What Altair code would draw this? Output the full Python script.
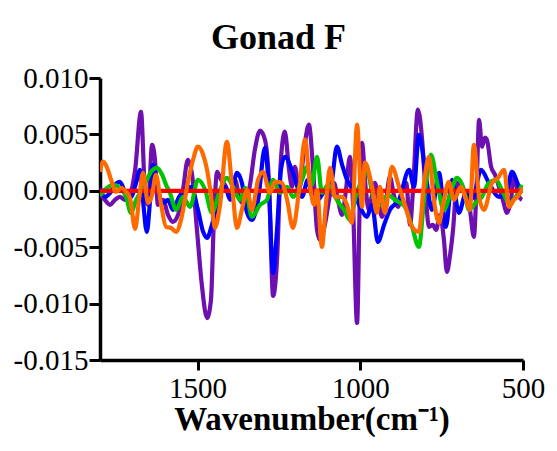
import altair as alt
import pandas as pd

# Wavenumbers (cm-1) and second-derivative values
purple_x = [1800, 1785, 1769, 1754, 1739, 1723, 1708, 1692, 1674, 1662, 1652, 1640, 1631, 1622, 1606, 1591,
            1576, 1560, 1545, 1530, 1517, 1502, 1487, 1471, 1459, 1450, 1440, 1428, 1416, 1400, 1385, 1370,
            1354, 1339, 1324, 1308, 1293, 1281, 1268, 1256, 1244, 1232, 1219, 1210, 1201, 1188, 1173, 1158,
            1146, 1133, 1124, 1109, 1093, 1081, 1069, 1056, 1044, 1032, 1023, 1010, 1001, 995, 983, 974,
            964, 955, 943, 933, 921, 909, 897, 884, 872, 859, 847, 838, 823, 810, 798, 789, 777, 767, 755,
            743, 734, 724, 715, 703, 687, 675, 663, 651, 642, 635, 626, 617, 611, 598, 586, 574, 562, 549,
            537, 528, 512, 503]
purple_y = [-0.00018, -0.0008, -0.00124, -0.0008, -0.00053, -0.0008, -0.00036, 0.00186, 0.0070, 0.00009,
            -0.00124, 0.00408, 0.00275, -0.00124, -0.0008, -0.00213, -0.00275, -0.00213, 0.00009, 0.00275,
            0.00142, -0.00346, -0.00835, -0.01128, -0.00968, -0.00258, 0.00169, 0.00098, 0.00053, -0.00036,
            0.00098, -0.0008, -0.00124, 0.00053, 0.00364, 0.00533, 0.00453, 0.00098, -0.00932, -0.00613,
            0.00275, 0.00524, 0.00186, 0.00036, 0.00213, 0.00009, 0.00364, 0.00586, 0.00231, -0.00346,
            -0.00435, -0.00302, -0.00036, 0.00071, -0.0008, -0.00213, 0.00009, 0.00302, -0.0008, -0.01172,
            0.00009, 0.00426, 0.00009, -0.00169, -0.00036, 0.00071, -0.00124, -0.00231, -0.0008, 0.00124,
            -0.00036, -0.00142, 0.00009, 0.00071, -0.00302, 0.00009, 0.0072, 0.00453, -0.0008, -0.0032,
            -0.00302, -0.00346, -0.00213, -0.00435, -0.00719, -0.00568, -0.00346, 0.00071, 0.00009, -0.00018,
            -0.00169, -0.00408, 0.00098, 0.0063, 0.00391, 0.00471, 0.00453, 0.00213, 0.00142, 0.00036,
            -0.0008, -0.00195, -0.0008, 0.00124, -0.00053, -0.0008]

blue_x = [1800, 1785, 1769, 1754, 1739, 1723, 1705, 1689, 1677, 1668, 1656, 1646, 1637, 1625, 1606, 1591,
          1576, 1557, 1539, 1520, 1499, 1483, 1471, 1456, 1437, 1416, 1400, 1379, 1364, 1348, 1333, 1314,
          1293, 1281, 1268, 1256, 1244, 1232, 1207, 1179, 1161, 1149, 1130, 1109, 1090, 1072, 1056, 1041,
          1023, 1001, 980, 964, 946, 927, 909, 881, 850, 835, 820, 798, 780, 758, 737, 718, 697, 675, 654,
          629, 605, 574, 552, 534, 512, 500]
blue_y = [0.00027, -0.00053, -0.00018, 0.00053, 0.0008, -0.00009, -0.00053, 0.00071, 0.00186, -0.0008,
          -0.00364, -0.0008, 0.00231, 0.00053, -0.00107, -0.0008, -0.00169, -0.00053, 0.00009, 0.00036,
          -0.00169, -0.00364, -0.00417, -0.00302, -0.0008, 0.00036, -0.0008, 0.0016, 0.00071, -0.00195,
          -0.00258, -0.0008, 0.00382, 0.00009, -0.00728, -0.00346, 0.00186, 0.00302, 0.0016, -0.00053,
          0.00098, -0.00036, -0.0008, 0.00009, 0.00053, 0.00391, 0.00231, 0.00098, 0.00009, -0.00142,
          -0.00231, -0.00124, -0.00453, -0.00302, -0.00169, -0.0008, 0.00186, 0.00036, 0.00497, 0.00124,
          -0.00169, 0.0016, -0.0032, 0.00098, -0.00195, -0.00018, -0.00062, 0.00186, 0.00071, -0.00053,
          -0.00036, 0.00169, 0.00036, -0.00009]

green_x = [1800, 1785, 1760, 1739, 1720, 1705, 1689, 1671, 1656, 1643, 1625, 1609, 1597, 1585, 1566, 1545,
           1523, 1499, 1477, 1456, 1431, 1410, 1391, 1370, 1354, 1333, 1308, 1287, 1268, 1247, 1225, 1207,
           1179, 1164, 1149, 1133, 1118, 1099, 1081, 1062, 1050, 1032, 1013, 995, 980, 958, 937, 915, 894,
           863, 841, 820, 804, 783, 764, 743, 724, 703, 681, 666, 645, 626, 605, 583, 565, 543, 522, 503]
green_y = [-0.00044, 0.00009, 0.00053, 0.00027, -0.00053, -0.00195, -0.0008, 0.00009, 0.00098, 0.00169,
           0.00204, 0.00142, 0.00053, -0.00018, -0.00169, -0.00053, -0.00142, 0.00098, 0.00009, -0.00195,
           0.00009, 0.00115, 0.00036, -0.0008, 0.00027, -0.00231, -0.00124, -0.0008, 0.00098, -0.00018,
           0.00036, -0.00053, 0.00098, 0.00213, 0.00053, 0.00302, -0.00018, 0.00053, -0.00036, -0.00124,
           -0.00169, -0.00258, -0.00036, 0.00098, 0.00186, -0.0008, -0.00124, -0.00036, -0.0008, -0.00142,
           -0.0032, -0.00497, -0.0008, 0.0032, 0.00071, -0.00169, -0.00036, 0.00115, 0.00009, -0.00169,
           -0.00107, -0.00053, 0.00071, 0.00098, 0.00009, -0.00107, -0.00053, 0.00053]

orange_x = [1800, 1791, 1778, 1766, 1751, 1735, 1720, 1708, 1692, 1680, 1668, 1652, 1640, 1628, 1613, 1597,
            1582, 1566, 1551, 1530, 1514, 1499, 1483, 1471, 1459, 1447, 1431, 1410, 1394, 1379, 1364, 1348,
            1333, 1314, 1299, 1278, 1262, 1241, 1225, 1207, 1188, 1170, 1155, 1142, 1133, 1118, 1106, 1093,
            1078, 1056, 1041, 1026, 1010, 995, 986, 964, 949, 940, 924, 903, 881, 863, 841, 820, 804, 789,
            774, 758, 746, 728, 712, 691, 675, 663, 651, 635, 620, 595, 577, 558, 543, 528, 512, 500]
orange_y = [0.00169, 0.00258, 0.00204, 0.00098, -0.00009, 0.00027, -0.00009, -0.00062, -0.00337, -0.0008,
            0.0016, -0.00107, -0.00036, 0.00142, -0.00107, -0.0032, -0.00329, -0.00364, -0.00258, 0.00071,
            0.00275, 0.00391, 0.0032, 0.00186, -0.00036, -0.00329, -0.00124, 0.00435, 0.00036, -0.00329,
            -0.00169, 0.00009, -0.00169, 0.00098, 0.00169, -0.00018, 0.0008, 0.00071, -0.0008, -0.00329,
            0.00009, 0.00453, 0.00053, -0.00124, 0.00009, -0.00497, -0.00124, 0.00204, -0.00053, -0.00053,
            -0.00124, -0.00284, 0.00586, -0.00142, 0.00249, 0.00036, -0.00195, 0.00036, -0.00195, 0.00213,
            0.00036, -0.00124, -0.0032, -0.00364, 0.00071, 0.00302, -0.0008, -0.00284, -0.00124, 0.0008,
            -0.0008, 0.00036, -0.0008, -0.00169, 0.00408, -0.00053, -0.00169, 0.00071, 0.00115, 0.00186,
            -0.00142, -0.0008, -0.00036, 0.00027]

red_x = [1800, 500]
red_y = [0.0, 0.0]

x_ticks = [1500, 1000, 500]
y_ticks = [-0.015, -0.010, -0.005, 0.0, 0.005, 0.010]

series = [
    ("purple", purple_x, purple_y, "#6E0FB0"),
    ("blue", blue_x, blue_y, "#0000FF"),
    ("green", green_x, green_y, "#00C400"),
    ("red", red_x, red_y, "#FF0000"),
    ("orange", orange_x, orange_y, "#FF6A00"),
]

FONT = "Liberation Serif"

x_enc = alt.X(
    "wn:Q",
    scale=alt.Scale(domain=[500, 1800], reverse=True, nice=False, zero=False),
    axis=alt.Axis(
        values=x_ticks,
        format="d",
        title="Wavenumber(cm\u207b\u00b9)",
        titlePadding=0,
        labelPadding=4,
        tickSize=10,
    ),
)
y_enc = alt.Y(
    "val:Q",
    scale=alt.Scale(domain=[-0.015, 0.010], nice=False, zero=False),
    axis=alt.Axis(
        values=y_ticks,
        labelExpr="datum.value < -0.0000001 ? '-' + format(-datum.value, '.3f') : format(abs(datum.value), '.3f')",
        title=None,
        labelPadding=1,
        tickSize=11,
    ),
)

layers = []
for name, xs, ys, col in series:
    df = pd.DataFrame({"wn": xs, "val": ys})
    layers.append(
        alt.Chart(df)
        .mark_line(color=col, strokeWidth=4.2, interpolate="monotone", clip=True)
        .encode(x=x_enc, y=y_enc, order=alt.Order("wn:Q"))
    )

chart = (
    alt.layer(*layers)
    .properties(
        width=423,
        height=282,
        padding={"left": 100, "top": 78, "right": 34, "bottom": 91},
        autosize="none",
        title=alt.TitleParams("Gonad F", anchor="middle", dx=-33, offset=7),
        background="white",
    )
    .configure(font=FONT)
    .configure_view(stroke=None)
    .configure_title(font=FONT, fontSize=36, fontWeight="bold", color="black")
    .configure_axis(
        labelFont=FONT,
        labelFontSize=29,
        labelColor="black",
        labelFlush=False,
        titleFont=FONT,
        titleFontSize=33,
        titleFontWeight="bold",
        titleColor="black",
        tickWidth=3,
        tickColor="black",
        domainWidth=3.5,
        domainColor="black",
        grid=False,
    )
)

chart.save("out.html", embed_options={"renderer": "svg", "actions": False})
